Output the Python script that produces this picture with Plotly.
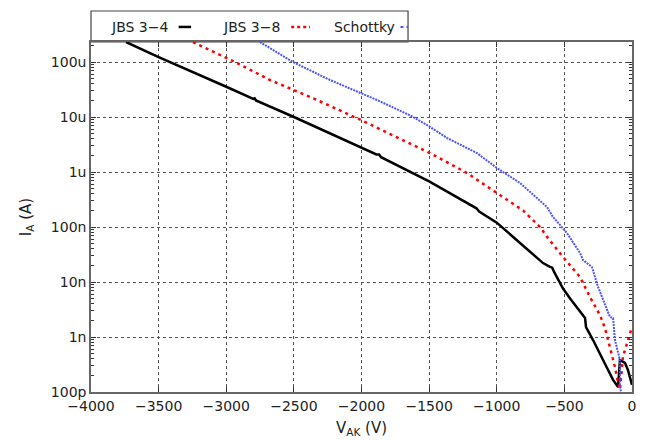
import plotly.graph_objects as go

# JBS 3-4 (black, solid)
v_jbs34 = [-3741, -3500, -3000, -2800, -2790, -2780, -2500, -2000, -1890, -1870, -1855,
           -1500, -1176, -1150, -1130, -1000, -828, -658, -610, -590, -575, -510, -458,
           -347, -340, -288, -214, -140, -103, -89, -52, -30, 0]
i_jbs34 = [2.31e-4, 1.23e-4, 3.55e-5, 2.14e-5, 2.19e-5, 2.0e-5, 1.0e-5, 2.77e-6, 2.09e-6, 2.09e-6, 1.86e-6,
           6.76e-7, 2.31e-7, 2.19e-7, 1.91e-7, 1.20e-7, 5.13e-8, 2.21e-8, 1.91e-8, 1.82e-8, 1.51e-8, 7.59e-9, 5.01e-9,
           2.21e-9, 1.51e-9, 8.81e-10, 3.82e-10, 1.66e-10, 1.23e-10, 3.80e-10, 3.39e-10, 2.51e-10, 1.35e-10]

# JBS 3-8 (red, dotted)
v_jbs38 = [-3246, -2935, -2677, -2329, -2000, -1715, -1494, -1220, -998, -828, -806, -680,
           -628, -510, -384, -311, -237, -200, -163, -126, -104, -89, -67, -30, 0]
i_jbs38 = [2.31e-4, 1.0e-4, 4.71e-5, 2.04e-5, 8.7e-6, 4.07e-6, 2.21e-6, 9.59e-7, 4.15e-7, 2.21e-7, 2.0e-7, 1.0e-7,
           6.61e-8, 2.85e-8, 1.23e-8, 5.33e-9, 2.51e-9, 1.46e-9, 6.61e-10, 2.85e-10, 1.51e-10, 1.10e-10, 4.37e-10, 8.81e-10, 1.52e-9]

# Schottky (blue, fine dotted)
v_schottky = [-2751, -2507, -2233, -2000, -1885, -1641, -1500, -1368, -1146, -998, -828, -628, -584,
              -481, -384, -362, -296, -251, -163, -140, -126, -89, -89, -74]
i_schottky = [2.31e-4, 1.0e-4, 4.71e-5, 2.7e-5, 2.04e-5, 1.07e-5, 6.76e-6, 4.17e-6, 2.21e-6, 1.18e-6, 6.31e-7, 2.31e-7, 1.52e-7,
              7.78e-8, 3.37e-8, 2.51e-8, 1.87e-8, 8.13e-9, 2.31e-9, 2.21e-9, 8.81e-10, 3.82e-10, 1.26e-10, 7.94e-11]

x_ticks = [-4000, -3500, -3000, -2500, -2000, -1500, -1000, -500, 0]
x_ticktext = ["−4000", "−3500", "−3000", "−2500", "−2000", "−1500", "−1000", "−500", "0"]
y_ticks = [1e-10, 1e-9, 1e-8, 1e-7, 1e-6, 1e-5, 1e-4]
y_ticktext = ["100p", "1n", "10n", "100n", "1u", "10u", "100u"]
y_minor = [k * d for d in [1e-10, 1e-9, 1e-8, 1e-7, 1e-6, 1e-5, 1e-4] for k in range(2, 10)]

legend_labels = ["JBS 3−4", "JBS 3−8", "Schottky"]

FONT = "DejaVu Sans"
fig = go.Figure()
fig.add_trace(go.Scatter(x=v_jbs34, y=i_jbs34, mode="lines", name=legend_labels[0],
                         line=dict(color="black", width=2.5), showlegend=False))
fig.add_trace(go.Scatter(x=v_jbs38, y=i_jbs38, mode="lines", name=legend_labels[1],
                         line=dict(color="#ff0000", width=2.5, dash="3px,4px"), showlegend=False))
fig.add_trace(go.Scatter(x=v_schottky, y=i_schottky, mode="lines", name=legend_labels[2],
                         line=dict(color="#4a55ff", width=2, dash="2px,1px"), showlegend=False))

axis_common = dict(showline=True, linecolor="#666666", linewidth=1.5, mirror="ticks",
                   ticks="inside", tickcolor="#333333", ticklen=5,
                   showgrid=True, gridcolor="#555555", griddash="dot", gridwidth=1,
                   zeroline=False, tickfont=dict(family=FONT, size=14, color="#222222"))

fig.update_xaxes(range=[-4000, 0], tickmode="array", tickvals=x_ticks, ticktext=x_ticktext,
                 title=dict(text="V<sub>AK</sub> (V)", font=dict(family=FONT, size=15, color="#222222"), standoff=10),
                 **axis_common)
fig.update_yaxes(type="log", range=[-10, -3.636], tickmode="array", tickvals=y_ticks, ticktext=y_ticktext,
                 minor=dict(tickmode="array", tickvals=y_minor, ticks="inside", ticklen=3, tickcolor="#333333", showgrid=False),
                 title=dict(text="I<sub>A</sub> (A)", font=dict(family=FONT, size=15, color="#222222"), standoff=16),
                 **axis_common)

# Key box above the plot (gnuplot style: text then sample)
shapes = [dict(type="rect", xref="paper", yref="paper", x0=0, x1=0.586, y0=1.0, y1=1.0886,
               line=dict(color="#444444", width=1.2), fillcolor="white", layer="below")]
key_items = [
    (legend_labels[0], 0.146, 0.162, 0.185, dict(color="black", width=2.5)),
    (legend_labels[1], 0.353, 0.370, 0.405, dict(color="#ff0000", width=2.5, dash="dot")),
    (legend_labels[2], 0.566, 0.572, 0.586, dict(color="#4a55ff", width=2, dash="dot")),
]
annotations = []
for label, tx, s0, s1, ln in key_items:
    annotations.append(dict(text=label, xref="paper", yref="paper", x=tx, y=1.043,
                            xanchor="right", yanchor="middle", showarrow=False,
                            font=dict(family=FONT, size=14, color="#222222")))
    shapes.append(dict(type="line", xref="paper", yref="paper", x0=s0, x1=s1, y0=1.043, y1=1.043, line=ln))

fig.update_layout(width=646, height=441, margin=dict(l=83, r=22, t=34, b=57),
                  paper_bgcolor="white", plot_bgcolor="white",
                  shapes=shapes, annotations=annotations, showlegend=False)

fig.write_html("out.html")
